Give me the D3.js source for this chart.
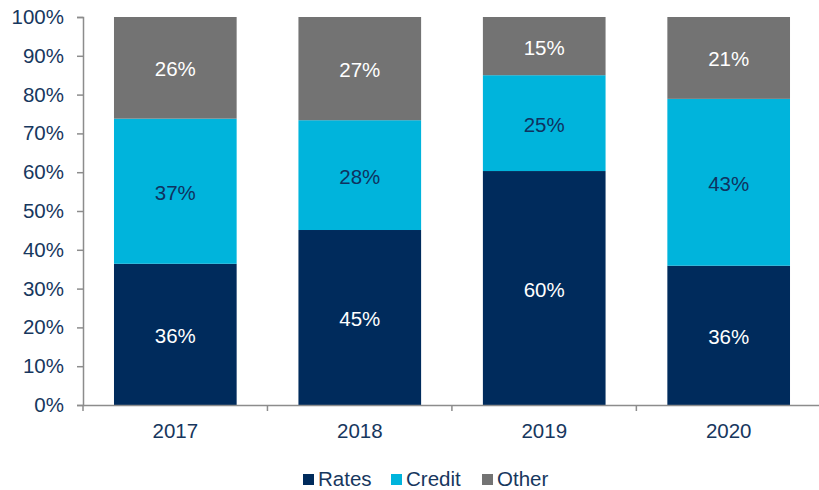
<!DOCTYPE html>
<html>
<head>
<meta charset="utf-8">
<script src="https://cdn.jsdelivr.net/npm/d3@7"></script>
<style>
  body { margin: 0; background: #fff; }
  text { font-family: "Liberation Sans", Arial, sans-serif; }
</style>
</head>
<body>
<div id="chart"></div>
<script>
// data (percent of total)
var years = ["2017", "2018", "2019", "2020"];
var seriesNames = ["Rates", "Credit", "Other"];
var rates = [36.4, 45.1, 60.3, 35.9];
var credit = [37.4, 28.3, 24.7, 43.0];
var other = [26.2, 26.6, 15.0, 21.1];
var yTicks = [0, 10, 20, 30, 40, 50, 60, 70, 80, 90, 100];

var colors = { Rates: "#002b5c", Credit: "#00b4dc", Other: "#737373" };
var labelColors = { Rates: "#ffffff", Credit: "#0f3260", Other: "#ffffff" };
var navy = "#17375e";
var fs = 20.5;

var w = 819, h = 490;
var svg = d3.select("#chart").append("svg").attr("width", w).attr("height", h);

var x = d3.scaleBand().domain(years).range([83, 821]).paddingInner(0.335).paddingOuter(0.168);
var y = d3.scaleLinear().domain([0, 100]).range([405, 17]);

var rows = years.map(function (yr, i) {
    return { year: yr, Rates: rates[i], Credit: credit[i], Other: other[i] };
});
var stacked = d3.stack().keys(seriesNames)(rows);

// bars
var layers = svg.append("g").selectAll("g")
    .data(stacked).enter().append("g")
    .attr("fill", function (s) { return colors[s.key]; });

layers.selectAll("rect")
    .data(function (s) { return s; })
    .enter().append("rect")
    .attr("x", function (d) { return x(d.data.year); })
    .attr("y", function (d) { return y(d[1]); })
    .attr("width", x.bandwidth())
    .attr("height", function (d) { return y(d[0]) - y(d[1]); });

// segment labels
stacked.forEach(function (s) {
    svg.append("g").selectAll("text")
        .data(s).enter().append("text")
        .attr("x", function (d) { return x(d.data.year) + x.bandwidth() / 2; })
        .attr("y", function (d) { return (y(d[0]) + y(d[1])) / 2 + 8.5; })
        .attr("text-anchor", "middle")
        .attr("font-size", fs)
        .attr("fill", labelColors[s.key])
        .text(function (d) { return Math.round(d[1] - d[0]) + "%"; });
});

// y axis
var yAxis = svg.append("g").attr("transform", "translate(83,0)")
    .call(d3.axisLeft(y).tickValues(yTicks).tickSize(6).tickPadding(13)
        .tickFormat(function (d) { return d + "%"; }));
yAxis.select(".domain").attr("stroke", "#8c8c8c").attr("stroke-width", 1.5);
yAxis.selectAll(".tick line").attr("stroke", "#8c8c8c").attr("stroke-width", 1.5);
yAxis.selectAll(".tick text").attr("font-size", fs).attr("fill", navy)
    .style("font-family", "Liberation Sans, Arial, sans-serif");

// x axis
var xAxis = svg.append("g").attr("transform", "translate(0,405)")
    .call(d3.axisBottom(x).tickSize(0).tickPadding(18.5));
xAxis.select(".domain").attr("stroke", "#8c8c8c").attr("stroke-width", 1.5);
xAxis.selectAll(".tick text").attr("font-size", fs).attr("fill", navy)
    .style("font-family", "Liberation Sans, Arial, sans-serif");

// category separators under the axis
var step = x.step();
var sepX = d3.range(years.length + 1).map(function (i) { return x.range()[0] + i * step; });
svg.append("g").selectAll("line")
    .data(sepX).enter().append("line")
    .attr("x1", function (d) { return d; })
    .attr("x2", function (d) { return d; })
    .attr("y1", 405).attr("y2", 411)
    .attr("stroke", "#8c8c8c").attr("stroke-width", 1.5);

// legend
var legendX = [303, 391, 482];
var legend = svg.append("g").selectAll("g")
    .data(seriesNames).enter().append("g")
    .attr("transform", function (d, i) { return "translate(" + legendX[i] + ",474)"; });
legend.append("rect").attr("width", 11).attr("height", 11)
    .attr("fill", function (d) { return colors[d]; });
legend.append("text").attr("x", 15).attr("y", 12)
    .attr("font-size", fs).attr("fill", navy)
    .text(function (d) { return d; });
</script>
</body>
</html>
